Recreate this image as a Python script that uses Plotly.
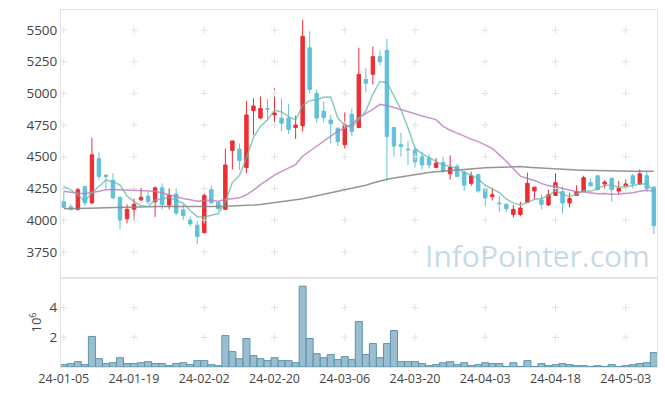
import plotly.graph_objects as go
import pandas as pd

# ---------------- data ----------------
dates = (
    ["2024-01-%s" % d for d in ["05","08","09","10","11","12","15","16","17","18","19",
                                 "22","23","24","25","26","29","30","31"]]
    + ["2024-02-%s" % d for d in ["01","02","05","06","07","08","13","14","15","16","19",
                                   "20","21","22","23","26","27","28","29"]]
    + ["2024-03-%s" % d for d in ["04","05","06","07","08","11","12","13","14","15","18",
                                   "19","20","21","22","25","26","27","28","29"]]
    + ["2024-04-%s" % d for d in ["01","02","03","04","05","08","09","11","12","15","16",
                                   "17","18","19","22","23","24","25","26","29","30"]]
    + ["2024-05-%s" % d for d in ["02","03","07","08","09","10"]]
)

open_ = [4145, 4105, 4085, 4265, 4135, 4485, 4355, 4315, 4180, 4010,
         4085, 4160, 4190, 4145, 4255, 4120, 4205, 4080, 4000, 3960,
         3900, 4240, 4140, 4085, 4550, 4560, 4415, 4865, 4805, 4880,
         4830, 4805, 4805, 4730, 4745, 5360, 5000, 4860, 4790, 4725,
         4595, 4835, 4730, 5110, 5150, 5290, 5340, 4730, 4595, 4560,
         4555, 4500, 4490, 4415, 4455, 4365, 4425, 4380, 4290, 4360,
         4250, 4185, 4135, 4125, 4045, 4045, 4140, 4230, 4160, 4120,
         4195, 4225, 4135, 4195, 4225, 4295, 4350, 4285, 4330, 4230,
         4265, 4350, 4285, 4350, 4260]
high = [4225, 4125, 4255, 4265, 4650, 4535, 4360, 4370, 4180, 4125,
        4170, 4255, 4225, 4265, 4290, 4250, 4250, 4125, 4030, 3990,
        4210, 4270, 4150, 4565, 4625, 4605, 4940, 4960, 4975, 4955,
        5040, 4960, 4915, 4825, 5580, 5490, 5030, 4935, 4830, 4730,
        4850, 4880, 5360, 5200, 5370, 5340, 5430, 4735, 4690, 4625,
        4580, 4540, 4520, 4490, 4500, 4510, 4445, 4390, 4380, 4365,
        4255, 4255, 4190, 4130, 4120, 4145, 4375, 4260, 4200, 4240,
        4370, 4265, 4215, 4275, 4350, 4330, 4350, 4315, 4335, 4310,
        4320, 4365, 4400, 4380, 4270]
low = [4095, 4075, 4075, 4110, 4130, 4315, 4245, 4165, 3925, 3975,
       4005, 4150, 4125, 4025, 4085, 4085, 4040, 4000, 3950, 3810,
       3900, 4135, 4075, 4085, 4400, 4395, 4370, 4670, 4800, 4785,
       4745, 4700, 4680, 4640, 4700, 5000, 4770, 4770, 4605, 4585,
       4565, 4665, 4730, 5010, 5070, 5220, 4305, 4500, 4500, 4435,
       4415, 4400, 4410, 4410, 4370, 4320, 4340, 4230, 4270, 4215,
       4110, 4155, 4065, 4065, 4020, 4030, 4135, 4165, 4085, 4110,
       4195, 4050, 4100, 4195, 4220, 4265, 4235, 4250, 4145, 4200,
       4240, 4250, 4275, 4220, 3890]
close = [4100, 4085, 4240, 4135, 4515, 4345, 4345, 4175, 4000, 4085,
         4125, 4180, 4145, 4255, 4125, 4195, 4055, 4035, 3970, 3870,
         4195, 4135, 4090, 4435, 4625, 4470, 4830, 4900, 4880, 4875,
         4845, 4765, 4715, 4750, 5450, 5030, 4805, 4810, 4760, 4620,
         4755, 4700, 5150, 5080, 5290, 5250, 4660, 4585, 4580, 4555,
         4460, 4435, 4435, 4450, 4390, 4415, 4345, 4275, 4350, 4230,
         4175, 4200, 4130, 4090, 4085, 4095, 4290, 4260, 4125, 4200,
         4295, 4135, 4170, 4225, 4335, 4270, 4240, 4300, 4240, 4250,
         4285, 4285, 4365, 4250, 3955]
# volume, millions of shares
volume = [0.16, 0.23, 0.36, 0.16, 2.06, 0.56, 0.23, 0.29, 0.63, 0.23,
          0.23, 0.29, 0.36, 0.23, 0.23, 0.09, 0.23, 0.29, 0.16, 0.43,
          0.43, 0.16, 0.09, 2.12, 1.04, 0.56, 1.92, 0.77, 0.56, 0.43,
          0.63, 0.43, 0.43, 0.29, 5.45, 1.92, 0.90, 0.63, 0.84, 0.50,
          0.70, 0.50, 3.07, 0.84, 1.58, 0.63, 1.58, 2.46, 0.36, 0.36,
          0.36, 0.23, 0.09, 0.16, 0.29, 0.36, 0.16, 0.29, 0.09, 0.16,
          0.29, 0.23, 0.23, 0.04, 0.29, 0.04, 0.43, 0.04, 0.23, 0.09,
          0.16, 0.23, 0.16, 0.09, 0.09, 0.04, 0.09, 0.04, 0.16, 0.04,
          0.09, 0.16, 0.23, 0.29, 0.97]
# moving-average values before the window is full (need earlier data)
ma5_head = [4264, 4238, 4198, 4151]
ma20_head = [4228, 4220, 4212, 4210, 4215, 4228, 4240, 4242, 4240, 4238,
             4236, 4235, 4234, 4228, 4214, 4198, 4183, 4170, 4160]
ma60 = [4090, 4090, 4091, 4092, 4093, 4095, 4097, 4099, 4101, 4103,
        4105, 4107, 4109, 4110, 4110, 4109, 4108, 4107, 4106, 4106,
        4106, 4107, 4108, 4109, 4110, 4113, 4116, 4119, 4123, 4130,
        4137, 4144, 4151, 4158, 4168, 4180, 4192, 4204, 4215, 4228,
        4240, 4250, 4260, 4275, 4292, 4310, 4322, 4332, 4342, 4352,
        4361, 4370, 4376, 4381, 4386, 4392, 4398, 4404, 4408, 4411,
        4414, 4416, 4418, 4421, 4424, 4422, 4418, 4414, 4410, 4406,
        4402, 4400, 4398, 4396, 4394, 4392, 4391, 4390, 4389, 4388,
        4387, 4386, 4386, 4385, 4385]

price_ticks = [3750, 4000, 4250, 4500, 4750, 5000, 5250, 5500]
vol_ticks = [2, 4]
x_tick_step = 10

# ---------------- derived ----------------
idx = list(range(len(dates)))
cs = pd.Series(close, dtype=float)
ma5 = cs.rolling(5).mean().tolist()
ma5[:len(ma5_head)] = ma5_head
ma20 = cs.rolling(20).mean().tolist()
ma20[:len(ma20_head)] = ma20_head
xt = idx[::x_tick_step]
xt_text = [d[2:] for d in dates[::x_tick_step]]

RED = "#ec2e33"
BLUE = "#62c0db"
FONT = "Open Sans"

fig = go.Figure()

# grid crosses
cross = dict(symbol="cross-thin", size=5, line=dict(color="#e2e2e2", width=1))
gx, gy = [], []
for xv in xt:
    for yv in price_ticks:
        gx.append(xv); gy.append(yv)
fig.add_trace(go.Scatter(x=gx, y=gy, mode="markers", hoverinfo="skip", showlegend=False,
                         marker=cross, xaxis="x", yaxis="y"))
gx2, gy2 = [], []
for xv in xt:
    for yv in vol_ticks:
        gx2.append(xv); gy2.append(yv)
fig.add_trace(go.Scatter(x=gx2, y=gy2, mode="markers", hoverinfo="skip", showlegend=False,
                         marker=cross, xaxis="x2", yaxis="y2"))

fig.add_trace(go.Candlestick(
    x=idx, open=open_, high=high, low=low, close=close,
    increasing=dict(line=dict(color=RED, width=1), fillcolor=RED),
    decreasing=dict(line=dict(color=BLUE, width=1), fillcolor=BLUE),
    whiskerwidth=0, showlegend=False, xaxis="x", yaxis="y"))

fig.add_trace(go.Scatter(x=idx, y=ma60, mode="lines", line=dict(color="rgba(130,130,130,0.85)", width=1.5),
                         showlegend=False, xaxis="x", yaxis="y"))
fig.add_trace(go.Scatter(x=idx, y=ma20, mode="lines", line=dict(color="rgba(190,120,190,0.8)", width=1.5),
                         showlegend=False, xaxis="x", yaxis="y"))
fig.add_trace(go.Scatter(x=idx, y=ma5, mode="lines", line=dict(color="rgba(100,185,165,0.75)", width=1.5),
                         showlegend=False, xaxis="x", yaxis="y"))

fig.add_trace(go.Bar(x=idx, y=volume, width=1.0,
                     marker=dict(color="rgba(125,172,195,0.78)", line=dict(color="#5d95ab", width=1)),
                     showlegend=False, xaxis="x2", yaxis="y2"))

split = 0.2493
xr = [-0.4, 84.45]
border = "#e3e3e3"
fig.update_layout(
    width=665, height=396,
    margin=dict(l=61, r=8, t=10, b=29),
    paper_bgcolor="white", plot_bgcolor="white",
    font=dict(family=FONT, color="#444", size=13),
    boxgap=0.3,
    xaxis=dict(domain=[0, 1], anchor="y", range=xr, showticklabels=False, showgrid=False,
               zeroline=False, showline=True, mirror=True, linecolor=border, linewidth=1,
               rangeslider=dict(visible=False), ticks="", automargin=False),
    yaxis=dict(domain=[split, 1], anchor="x", range=[3543, 5658], tickvals=price_ticks,
               showgrid=False, zeroline=False, showline=True, mirror=True, linecolor=border,
               linewidth=1, ticks="", tickfont=dict(size=13.5, color="#444"), automargin=False),
    xaxis2=dict(domain=[0, 1], anchor="y2", range=xr, matches="x", tickvals=xt, ticktext=xt_text,
                showgrid=False, zeroline=False, showline=True, mirror=True, linecolor=border,
                linewidth=1, ticks="", tickfont=dict(size=12.5, color="#444"), automargin=False),
    yaxis2=dict(domain=[0, split], anchor="x2", range=[0, 6.0], tickvals=vol_ticks,
                showgrid=False, zeroline=False, showline=True, mirror=True, linecolor=border,
                linewidth=1, ticks="", tickfont=dict(size=13.5, color="#444"), automargin=False,
                title=dict(text="10<sup>6</sup>", font=dict(size=13, color="#444"), standoff=4)),
    annotations=[dict(text="InfoPointer.com", xref="paper", yref="paper", x=0.992, y=0.311,
                      xanchor="right", yanchor="middle", showarrow=False,
                      font=dict(family=FONT, size=30, color="rgba(140,180,205,0.5)"))],
)

fig.write_html("out.html", config={"displayModeBar": False},
               post_script="document.body.style.margin='0';")
